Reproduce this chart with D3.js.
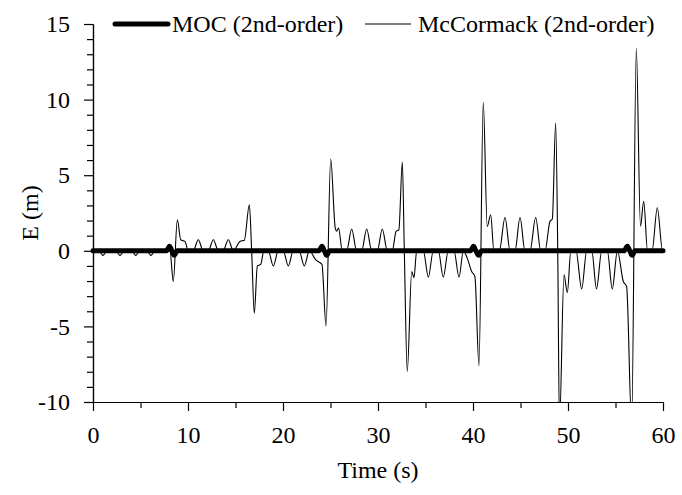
<!DOCTYPE html>
<html>
<head>
<meta charset="utf-8">
<script src="https://cdn.jsdelivr.net/npm/d3@7"></script>
<style>
  html, body { margin: 0; padding: 0; background: #fff; }
  svg { display: block; }
  text { font-family: "Liberation Serif", "Times New Roman", serif; fill: #000; }
</style>
</head>
<body>
<div id="chart"></div>
<script>
// ---- data ----
const seriesNames = ["MOC (2nd-order)", "McCormack (2nd-order)"];

const mocTime = [0, 7.75, 8.05, 8.3, 8.55, 8.85, 23.8, 24.1, 24.35, 24.6, 24.9,
  39.75, 40.05, 40.3, 40.6, 40.9, 55.9, 56.25, 56.5, 56.75, 57.05, 60];
const mocE = [0, 0, 0.3, 0, -0.3, 0, 0, 0.3, 0, -0.3, 0,
  0, 0.3, 0, -0.3, 0, 0, 0.3, 0, -0.3, 0, 0];

const mccTime = [0, 0.6, 1.05, 1.5, 2.4, 2.84, 3.3, 4.05, 4.5, 4.95, 5.65, 6.1, 6.55, 8.1,
  8.45, 8.88, 9.23, 9.68, 10.03, 10.56, 11.08, 11.6, 12.14, 12.67, 13.19, 13.7, 14.24, 14.77,
  15.47, 15.93, 16.46, 16.7, 16.98, 17.3, 17.65, 18.0, 18.45, 18.98, 19.5, 20.03, 20.56, 21.08,
  21.7, 22.24, 22.77, 23.45, 24.1, 24.53,
  25.02, 25.5, 25.65, 25.85, 26.24, 26.7, 27.23, 27.75, 28.28, 28.81, 29.34, 29.93, 30.45, 30.98,
  31.5, 31.9, 32.2, 32.56, 32.77, 33.08, 33.55, 33.79, 34.07, 34.77, 35.3, 35.82, 36.35, 36.87,
  37.4, 38.0, 38.53, 38.98, 39.4, 39.86, 40.2, 40.63,
  41.08, 41.5, 41.86, 42.2, 42.77, 43.37, 43.9, 44.42, 44.95, 45.47, 46.0, 46.6, 47.13, 47.58,
  48.1, 48.35, 48.7, 48.92, 49.1, 49.58, 49.93, 50.3, 50.84, 51.44, 51.97, 52.5, 53.0, 53.55,
  54.14, 54.66, 55.2, 55.82, 56.17, 56.7,
  57.19, 57.63, 57.97, 58.37, 58.85, 59.4, 59.95, 60];
const mccE = [0, 0, -0.3, 0, 0, -0.3, 0, 0, -0.3, 0, 0, -0.3, 0, 0,
  -2.03, 2.05, 0.73, 0.62, 0, 0, 0.73, 0, 0, 0.73, 0, 0, 0.73, 0,
  0.62, 0.7, 3.05, 0, -4.13, -1.0, -0.9, 0, 0, -1.0, 0, 0, -1.0, 0,
  0, -1.0, 0, -0.6, -0.9, -4.97,
  6.07, 1.5, 1.3, 1.5, 0, 0, 1.44, 0, 0, 1.44, 0, 0, 1.44, 0,
  0, 1.28, 1.4, 5.87, 0, -7.99, -1.37, -1.79, 0, 0, -1.74, 0, 0, -1.74,
  0, 0, -1.74, 0, -0.5, -1.37, -1.7, -7.6,
  9.82, 1.61, 2.38, 0, 0, 2.2, 0, 0, 2.2, 0, 0, 2.2, 0, 0,
  1.94, 2.1, 8.45, 0, -11.5, -1.59, -2.76, 0, 0, -2.52, 0, 0, -2.52, 0,
  0, -2.52, 0, -2.03, -2.36, -11.5,
  13.4, 1.62, 3.27, 0, 0, 2.85, 0, 0];

const xTicks = [0, 10, 20, 30, 40, 50, 60];
const xMinorTicks = [5, 15, 25, 35, 45, 55];
const yTicks = [-10, -5, 0, 5, 10, 15];
const yMinorTicks = [-9, -8, -7, -6, -4, -3, -2, -1, 1, 2, 3, 4, 6, 7, 8, 9, 11, 12, 13, 14];
const xTitle = "Time (s)";
const yTitle = "E (m)";

// ---- layout ----
const W = 682, H = 495;
const mLeft = 93, mRight = 663, mTop = 24, mBottom = 402;

const svg = d3.select("#chart").append("svg").attr("width", W).attr("height", H);

const x = d3.scaleLinear().domain([0, 60]).range([mLeft, mRight]);
const y = d3.scaleLinear().domain([-10, 15]).range([mBottom, mTop]);

svg.append("defs").append("clipPath").attr("id", "plotclip")
  .append("rect").attr("x", mLeft).attr("y", 0).attr("width", W - mLeft).attr("height", mBottom);

// axes
const fontSize = 24;
const fmt = d => String(d);
const xAxis = d3.axisBottom(x).tickValues(xTicks).tickSize(9).tickSizeOuter(0).tickPadding(15)
  .tickFormat(fmt);
const xMinor = d3.axisBottom(x).tickValues(xMinorTicks).tickSize(6).tickSizeOuter(0).tickFormat("");
const yAxis = d3.axisLeft(y).tickValues(yTicks).tickSize(9).tickSizeOuter(0).tickPadding(14)
  .tickFormat(fmt);
const yMinor = d3.axisLeft(y).tickValues(yMinorTicks).tickSize(6).tickSizeOuter(0).tickFormat("");

function styleAxis(g) {
  g.selectAll("path.domain").attr("stroke", "#000").attr("stroke-width", 1.2);
  g.selectAll(".tick line").attr("stroke", "#000").attr("stroke-width", 1.2);
  g.selectAll(".tick text").attr("font-size", fontSize)
    .attr("font-family", '"Liberation Serif", "Times New Roman", serif').attr("fill", "#000");
}

svg.append("g").attr("transform", `translate(0,${mBottom})`).call(xMinor).call(styleAxis);
svg.append("g").attr("transform", `translate(0,${mBottom})`).call(xAxis).call(styleAxis);
svg.append("g").attr("transform", `translate(${mLeft},0)`).call(yMinor).call(styleAxis);
svg.append("g").attr("transform", `translate(${mLeft},0)`).call(yAxis).call(styleAxis);

// lines
const lineGen = d3.line().x(d => x(d[0])).y(d => y(d[1])).curve(d3.curveMonotoneX);
const mccData = mccTime.map((t, i) => [t, mccE[i]]);
const mocData = mocTime.map((t, i) => [t, mocE[i]]);

svg.append("path").datum(mccData)
  .attr("clip-path", "url(#plotclip)")
  .attr("d", lineGen).attr("fill", "none").attr("stroke", "#000").attr("stroke-width", 1.1)
  .attr("stroke-linejoin", "round");

svg.append("path").datum(mocData)
  .attr("d", lineGen).attr("fill", "none").attr("stroke", "#000").attr("stroke-width", 5)
  .attr("stroke-linejoin", "round").attr("stroke-linecap", "round");

// legend
const legY = 24;
const leg = svg.append("g");
leg.append("line").attr("x1", 115).attr("x2", 168).attr("y1", legY).attr("y2", legY)
  .attr("stroke", "#000").attr("stroke-width", 5).attr("stroke-linecap", "round");
leg.append("text").attr("x", 172).attr("y", legY).attr("dy", "0.35em")
  .attr("font-size", fontSize).text(seriesNames[0]);
leg.append("line").attr("x1", 365).attr("x2", 411).attr("y1", legY).attr("y2", legY)
  .attr("stroke", "#000").attr("stroke-width", 1.1);
leg.append("text").attr("x", 418).attr("y", legY).attr("dy", "0.35em")
  .attr("font-size", fontSize).text(seriesNames[1]);

// axis titles
svg.append("text").attr("x", (mLeft + mRight) / 2).attr("y", 470).attr("dy", "0.35em")
  .attr("text-anchor", "middle").attr("font-size", fontSize).text(xTitle);
svg.append("text").attr("transform", `translate(30,${(mTop + mBottom) / 2}) rotate(-90)`)
  .attr("dy", "0.35em").attr("text-anchor", "middle").attr("font-size", fontSize).text(yTitle);
</script>
</body>
</html>
